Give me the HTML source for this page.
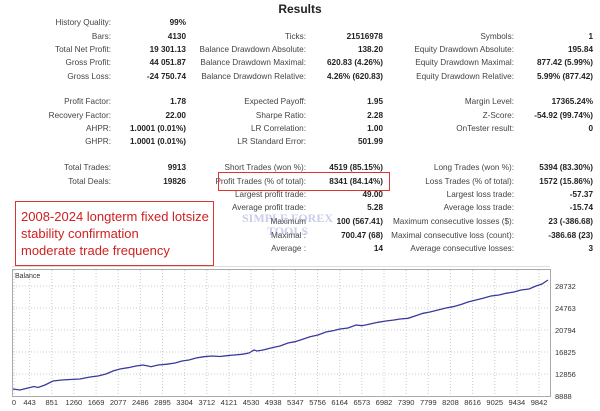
<!DOCTYPE html>
<html><head><meta charset="utf-8"><style>
body{margin:0;width:600px;height:411px;background:#fff;position:relative;overflow:hidden;font-family:"Liberation Sans","DejaVu Sans",sans-serif;font-size:8.2px;color:#333}
.l,.v{position:absolute;white-space:nowrap;line-height:12px}
.l{text-align:right;color:#444}
.v{text-align:right;font-weight:bold;color:#222}
</style></head><body>
<div style="position:absolute;left:0;width:600px;top:2px;text-align:center;font-weight:bold;font-size:12px;color:#222">Results</div>
<div id="t"></div>
<div style="position:absolute;left:218px;top:172px;width:170px;height:17px;border:1.5px solid #d33"></div>
<div style="position:absolute;left:15px;top:201px;width:197px;height:63px;border:1.5px solid #d33"></div>
<div style="position:absolute;left:21px;top:208px;color:#d02020;font-size:13px;line-height:17px">2008-2024 longterm fixed lotsize<br>stability confirmation<br>moderate trade frequency</div>
<div style="position:absolute;left:242px;top:212px;color:rgba(120,130,200,0.4);font-family:'Liberation Serif',serif;font-weight:bold;font-size:12px;line-height:13px;text-align:center">SIMPLE FOREX<br>TOOLS</div>
<div style="position:absolute;left:12px;top:266px;width:538px;height:0;border-top:1px solid #ddd"></div>
<svg style="position:absolute;left:0;top:0" width="600" height="411">
<rect x="12.5" y="269.5" width="538" height="127" fill="none" stroke="#aaa"/>
<g stroke="#ccc" stroke-dasharray="1,2" id="g"></g>
<text x="15" y="278" font-size="7" fill="#333" font-family="Liberation Sans">Balance</text>
<polyline fill="none" stroke="#3a3a9a" stroke-width="1.3" points="13,389 20,390 28,388 34,386.5 38,387.5 45,385 53,381 62,380 70,379.5 80,379 90,377 98,376 106,374 113,371 120,369 128,367.7 136,366 143,365 148,366 151,366.7 158,365 166,364.3 175,363 182,361 189,360 196,358 204,356.7 212,356 220,356.5 227,355.7 234,355 242,354.3 249,353 254,350 257,351 263,350 272,347.7 280,346 288,343 295,341.7 302,339.5 310,336.7 318,335 326,332 334,330.5 340,329 348,328 356,325 362,325.7 370,324 378,322.3 386,321 394,320 400,319 408,318.3 415,316 423,313.3 430,312 438,310 446,308 453,306.7 461,304.5 468,302 476,300 483,298.3 491,296 499,295 506,293.3 514,292 521,290 529,289 536,286 542,284 548,280"/>
<g font-size="7.5" fill="#333" font-family="Liberation Sans" id="ax"></g>
</svg>
<script>
var rows=[
[23,"History Quality:","99%"],[37,"Bars:","4130","Ticks:","21516978","Symbols:","1"],
[50,"Total Net Profit:","19 301.13","Balance Drawdown Absolute:","138.20","Equity Drawdown Absolute:","195.84"],
[63,"Gross Profit:","44 051.87","Balance Drawdown Maximal:","620.83 (4.26%)","Equity Drawdown Maximal:","877.42 (5.99%)"],
[77,"Gross Loss:","-24 750.74","Balance Drawdown Relative:","4.26% (620.83)","Equity Drawdown Relative:","5.99% (877.42)"],
[102,"Profit Factor:","1.78","Expected Payoff:","1.95","Margin Level:","17365.24%"],
[116,"Recovery Factor:","22.00","Sharpe Ratio:","2.28","Z-Score:","-54.92 (99.74%)"],
[129,"AHPR:","1.0001 (0.01%)","LR Correlation:","1.00","OnTester result:","0"],
[142,"GHPR:","1.0001 (0.01%)","LR Standard Error:","501.99"],
[168,"Total Trades:","9913","Short Trades (won %):","4519 (85.15%)","Long Trades (won %):","5394 (83.30%)"],
[182,"Total Deals:","19826","Profit Trades (% of total):","8341 (84.14%)","Loss Trades (% of total):","1572 (15.86%)"],
[195,"","","Largest profit trade:","49.00","Largest loss trade:","-57.37"],
[208,"","","Average profit trade:","5.28","Average loss trade:","-15.74"],
[222,"","","Maximum","100 (567.41)","Maximum consecutive losses ($):","23 (-386.68)"],
[236,"","","Maximal :","700.47 (68)","Maximal consecutive loss (count):","-386.68 (23)"],
[249,"","","Average :","14","Average consecutive losses:","3"]];
var h="",rx=[[111,186],[306,383],[514,593]];
rows.forEach(function(r){for(var c=0;c<3;c++){if(!r[1+2*c])continue;
h+='<div class="l" style="right:'+(600-rx[c][0])+'px;top:'+(r[0]-6)+'px">'+r[1+2*c]+'</div>';
h+='<div class="v" style="right:'+(600-rx[c][1])+'px;top:'+(r[0]-6)+'px">'+r[2+2*c]+'</div>';}});
document.getElementById('t').innerHTML=h;
var xs=["0","443","851","1260","1669","2077","2486","2895","3304","3712","4121","4530","4938","5347","5756","6164","6573","6982","7390","7799","8208","8616","9025","9434","9842"];
var g="",a="";
xs.forEach(function(s,i){var x=i==0?14:29.6+(i-1)*22.15;g+='<line x1="'+x+'" x2="'+x+'" y1="270" y2="396"/>';a+='<text x="'+x+'" y="405" text-anchor="middle">'+s+'</text>';});
["28732","24763","20794","16825","12856","8888"].forEach(function(s,i){var y=286+i*22;if(i<5)g+='<line x1="13" x2="550" y1="'+y+'" y2="'+y+'"/>';a+='<text x="555" y="'+(y+3)+'">'+s+'</text>';});
document.getElementById('g').innerHTML=g;document.getElementById('ax').innerHTML=a;
</script>
</body></html>
